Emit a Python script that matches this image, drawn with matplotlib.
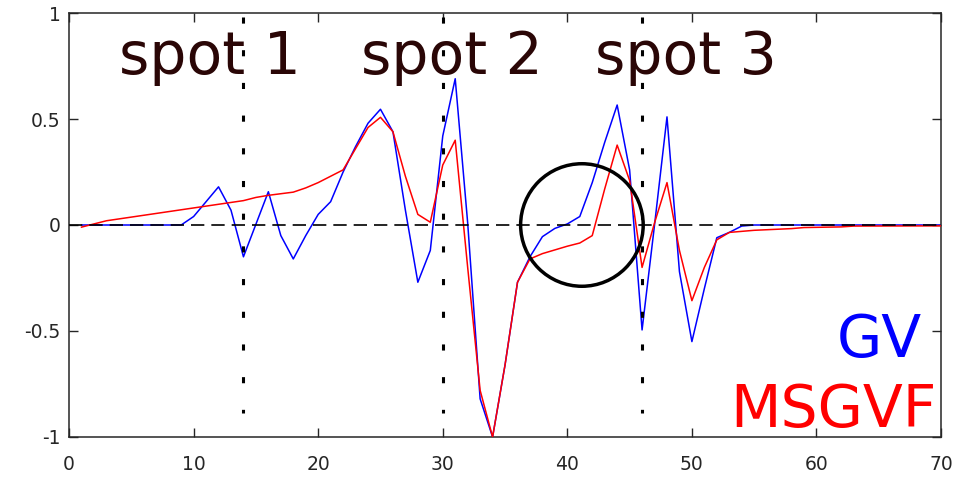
import matplotlib
matplotlib.use("Agg")
import matplotlib.pyplot as plt
from matplotlib.patches import Ellipse

# GV curve (blue), vertices
gv_x = [1, 9, 10, 12, 13, 14, 16, 17, 18, 19, 20, 21, 22, 23, 24, 25, 26, 27, 28, 29,
        30, 31, 32, 33, 34, 35, 36, 37, 38, 39, 40, 41, 42, 43, 44, 45, 46, 47, 48, 49,
        50, 51, 52, 53, 54, 55, 70]
gv_y = [0.0, 0.0, 0.04, 0.18, 0.07, -0.15, 0.157, -0.05, -0.16, -0.05, 0.05, 0.11, 0.25, 0.37, 0.48, 0.546, 0.44, 0.07, -0.27, -0.12,
        0.42, 0.69, 0.01, -0.82, -1.0, -0.66, -0.27, -0.15, -0.055, -0.016, 0.005, 0.04, 0.2, 0.39, 0.566, 0.26, -0.495, 0.0, 0.51, -0.22,
        -0.55, -0.3, -0.06, -0.035, -0.005, 0.0, 0.0]

# MSGVF curve (red)
ms_x = [1, 2, 3, 14, 15, 16, 18, 19, 20, 22, 23, 24, 25, 26, 27, 28, 29, 30, 31, 32,
        33, 34, 35, 36, 37, 38, 40, 41, 42, 43, 44, 45, 46, 47, 48, 49, 50, 51, 52, 53,
        55, 58, 59, 62, 63, 70]
ms_y = [-0.01, 0.005, 0.02, 0.115, 0.13, 0.14, 0.155, 0.175, 0.2, 0.26, 0.36, 0.46, 0.508, 0.44, 0.23, 0.05, 0.013, 0.283, 0.40, -0.2,
        -0.78, -1.0, -0.66, -0.27, -0.16, -0.135, -0.1, -0.085, -0.05, 0.17, 0.377, 0.21, -0.2, 0.01, 0.2, -0.12, -0.357, -0.2, -0.07, -0.035,
        -0.025, -0.017, -0.012, -0.009, -0.005, -0.004]

spot_x = [14, 30, 46]
spot_labels = ["spot 1", "spot 2", "spot 3"]
spot_text_x = [4.05, 23.45, 42.2]

xticks = [0, 10, 20, 30, 40, 50, 60, 70]
yticks = [-1, -0.5, 0, 0.5, 1]
ytick_labels = ["-1", "-0.5", "0", "0.5", "1"]

fig = plt.figure(figsize=(9.63, 4.8), dpi=100)
ax = fig.add_axes([0.0717, 0.0896, 0.9055, 0.8833])

ax.plot(gv_x, gv_y, color="#0000ff", lw=1.1, zorder=2)
ax.plot(ms_x, ms_y, color="#ff0000", lw=1.1, zorder=3)

# zero line
ax.plot([0, 70], [0, 0], color="black", lw=1.2, dashes=(8, 4.2), zorder=4)

# dotted markers for the spots
for sx in spot_x:
    ax.plot([sx, sx], [0.981, -0.887], color="black", lw=2.2,
            dashes=(2, 8.7), solid_capstyle="butt", dash_capstyle="butt", zorder=5)

# circled region
ax.add_patch(Ellipse((41.17, 0.0), 9.84, 0.578, fill=False, edgecolor="black",
                     lw=2.5, zorder=6))

for tx, lab in zip(spot_text_x, spot_labels):
    ax.text(tx, 0.712, lab, fontsize=42, color="#2a0606", ha="left",
            va="baseline", family="DejaVu Sans", zorder=7)

ax.text(61.6, -0.623, "GV", fontsize=42, color="#0000ff", ha="left",
        va="baseline", family="DejaVu Sans", zorder=7)
ax.text(53.1, -0.953, "MSGVF", fontsize=42, color="#ff0000", ha="left",
        va="baseline", family="DejaVu Sans", zorder=7)

ax.set_xlim(0, 70)
ax.set_ylim(-1, 1)
ax.set_xticks(xticks)
ax.set_xticklabels([str(t) for t in xticks])
ax.set_yticks(yticks)
ax.set_yticklabels(ytick_labels)

for sp in ax.spines.values():
    sp.set_color("#262626")
    sp.set_linewidth(1.1)
ax.tick_params(direction="in", length=6.5, width=1, colors="#262626",
               top=True, right=True, labelsize=13.5)
ax.tick_params(axis="x", pad=13)
ax.tick_params(axis="y", pad=6)

fig.savefig("out.png", dpi=100)
